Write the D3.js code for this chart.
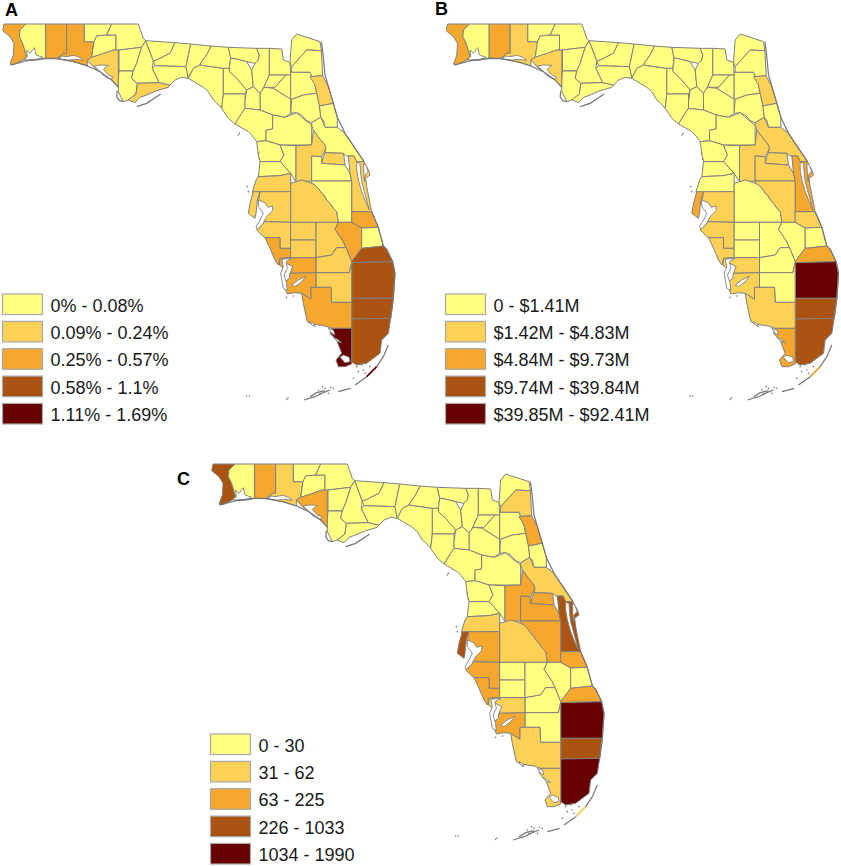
<!DOCTYPE html>
<html lang="en">
<head>
<meta charset="UTF-8">
<title>Florida county maps</title>
<script src="https://d3js.org/d3.v7.min.js"></script>
<style>
    body { margin: 0; background: #fff; }
    svg { display: block; }
    text { font-family: 'Liberation Sans', Arial, sans-serif; fill: #1a1a1a; }
    .county { stroke: #808080; stroke-width: 1; stroke-linejoin: round; }
    .water { fill: #fff; stroke: #808080; stroke-width: 0.9; stroke-linejoin: round; }
    .coast { fill: none; stroke: #777; stroke-width: 1.2; }
    .swatch { stroke: #a8a8a8; stroke-width: 1.2; }
    .letter { font-weight: bold; font-size: 18px; fill: #000; }
    .label { font-size: 18px; }
</style>
</head>
<body>
<svg id="chart" width="841" height="866"></svg>
<script>
const classColors = ["#ffff80", "#fdd155", "#f5a72e", "#ab5412", "#670000"];

const legendA = ["0% - 0.08%", "0.09% - 0.24%", "0.25% - 0.57%", "0.58% - 1.1%", "1.11% - 1.69%"];
const legendB = ["0 - $1.41M", "$1.42M - $4.83M", "$4.84M - $9.73M", "$9.74M - $39.84M", "$39.85M - $92.41M"];
const legendC = ["0 - 30", "31 - 62", "63 - 225", "226 - 1033", "1034 - 1990"];

const countyNames = ["Escambia", "Santa Rosa", "Okaloosa", "Walton", "Holmes", "Washington", "Bay", "Jackson", "Calhoun", "Gulf", "Liberty", "Franklin",
    "Gadsden", "Leon", "Wakulla", "Jefferson", "Taylor", "Madison", "Hamilton", "Suwannee", "Lafayette", "Dixie", "Columbia", "Baker", "Nassau", "Duval", "Union", "Bradford", "Clay",
    "St. Johns", "Flagler", "Putnam", "Alachua", "Gilchrist", "Levy", "Marion", "Citrus", "Sumter", "Hernando", "Pasco", "Lake", "Volusia", "Seminole", "Orange", "Brevard", "Osceola", "Polk",
    "Pinellas", "Hillsborough", "Manatee", "Sarasota", "Hardee", "DeSoto", "Highlands", "Okeechobee", "Indian River", "St. Lucie", "Martin", "Palm Beach", "Broward", "Miami-Dade", "Glades", "Hendry", "Charlotte", "Lee", "Collier", "Monroe"];

// class index per county, same order as countyNames
const classA = [2,0,2,2,0,0,1,0,0,0,0,1,
    0,0,0,0,0,0,0,0,0,0,0,0,0,0,0,0,0,
    1,0,0,0,0,0,0,0,0,0,1,1,0,1,0,1,0,1,
    1,1,1,2,1,1,1,2,2,0,3,3,3,3,1,1,2,2,2,4];
const classB = [2,0,2,1,0,0,1,0,0,0,0,0,
    0,0,0,0,0,0,0,0,0,0,0,0,0,0,0,0,0,
    1,0,0,0,0,0,0,0,0,0,0,1,1,1,1,2,1,0,
    2,1,1,1,0,0,0,0,1,0,2,4,3,3,0,0,1,1,1,2];
const classC = [3,0,2,1,0,0,2,0,0,0,0,0,
    0,0,0,0,0,0,0,0,0,0,0,0,0,1,0,0,0,
    2,0,0,0,0,0,0,0,0,0,1,2,1,2,2,3,2,1,
    3,2,2,2,0,0,0,0,2,0,2,4,3,4,0,0,1,2,1,1];

// county outlines in map units
const countyOutlines = [
    [[12,72],[78,72],[60,90],[58,110],[68,130],[80,170],[72,178],[60,185],[35,195],[30,193],[40,165],[42,130],[30,110],[8,92]],
    [[78,72],[137,72],[137,175],[112,180],[80,182],[72,178],[80,170],[68,130],[58,110],[60,90]],
    [[137,72],[200,72],[200,160],[190,160],[172,175],[137,175]],
    [[200,72],[253,72],[253,125],[282,125],[275,172],[262,180],[262,198],[225,186],[195,180],[172,176],[190,160],[200,160]],
    [[253,72],[335,72],[320,105],[290,108],[282,125],[253,125]],
    [[282,125],[290,108],[320,105],[348,105],[348,150],[340,150],[300,165],[275,172]],
    [[262,180],[275,172],[340,150],[355,150],[355,262],[335,240],[300,215],[280,200]],
    [[335,72],[415,72],[430,115],[437,122],[425,142],[357,150],[348,150],[348,105],[320,105]],
    [[357,150],[425,142],[410,190],[400,212],[357,213]],
    [[357,213],[400,213],[395,235],[412,250],[408,282],[385,300],[370,305],[355,275],[355,243]],
    [[425,142],[437,122],[460,183],[457,205],[478,248],[412,250],[395,235],[400,212],[410,190]],
    [[412,250],[478,248],[510,255],[505,262],[470,272],[440,285],[420,292],[405,308],[385,300],[408,282]],
    [[437,122],[525,128],[510,160],[470,180],[460,183]],
    [[525,128],[572,132],[560,190],[558,200],[465,197],[460,183],[470,180],[510,160]],
    [[465,197],[558,200],[565,235],[545,232],[525,240],[510,255],[478,248],[457,205]],
    [[572,132],[633,138],[620,165],[605,185],[600,195],[580,205],[565,235],[558,200],[560,190]],
    [[600,195],[670,205],[670,282],[665,325],[650,308],[640,300],[625,275],[610,262],[565,235],[580,205]],
    [[633,138],[685,142],[692,175],[688,205],[670,205],[600,195],[605,185],[620,165]],
    [[685,142],[770,145],[778,165],[775,180],[765,190],[740,185],[700,175],[692,175]],
    [[692,175],[700,175],[740,185],[755,210],[760,260],[740,270],[710,235],[688,215],[688,205]],
    [[670,205],[688,205],[688,215],[710,235],[740,270],[735,282],[670,282]],
    [[670,282],[735,282],[735,325],[725,340],[705,372],[685,355],[665,325]],
    [[770,145],[808,145],[808,225],[790,265],[780,280],[760,260],[755,210],[765,190],[775,180],[778,165]],
    [[808,145],[845,147],[850,180],[870,187],[872,225],[808,225]],
    [[875,200],[870,187],[875,120],[890,102],[930,115],[960,125],[964,152],[920,150]],
    [[875,200],[920,150],[964,152],[968,227],[935,230],[930,217],[875,217]],
    [[808,225],[858,225],[825,262],[795,262],[790,265]],
    [[858,225],[872,225],[872,298],[820,265],[825,262]],
    [[872,217],[930,217],[945,255],[950,280],[910,285],[875,298],[872,298]],
    [[930,230],[968,227],[985,260],[1000,310],[958,318],[950,280],[945,255]],
    [[958,318],[1000,310],[1012,352],[1012,382],[975,382],[970,360],[962,352]],
    [[875,298],[910,285],[950,280],[958,318],[962,352],[935,368],[920,362],[905,345],[890,338],[872,340]],
    [[795,262],[820,265],[872,298],[872,340],[855,352],[818,345],[780,330],[780,280],[790,265]],
    [[760,260],[780,280],[780,330],[735,325],[735,305],[740,270]],
    [[735,325],[780,330],[818,345],[818,387],[798,390],[798,422],[770,425],[755,405],[745,395],[705,372],[725,340]],
    [[818,345],[855,352],[890,338],[915,360],[935,375],[935,435],[840,435],[798,422],[798,390],[818,387]],
    [[770,425],[798,422],[840,435],[852,465],[840,485],[780,485],[775,465]],
    [[840,435],[888,437],[888,545],[872,520],[840,485],[852,465]],
    [[780,485],[840,485],[872,520],[840,527],[775,530]],
    [[775,530],[840,527],[872,520],[872,575],[757,577],[768,540]],
    [[888,437],[935,435],[940,390],[955,410],[975,435],[978,445],[965,470],[935,468],[935,543],[888,545]],
    [[935,368],[962,352],[975,382],[1012,382],[1035,400],[1092,485],[1070,485],[1062,468],[1040,468],[1030,460],[975,458],[978,445],[975,435],[955,410],[940,390],[935,375]],
    [[975,458],[1030,460],[1032,470],[1035,495],[965,490],[970,470]],
    [[935,468],[965,470],[965,490],[1035,495],[1050,520],[1055,543],[935,543]],
    [[1045,468],[1062,468],[1070,485],[1092,485],[1105,510],[1110,525],[1097,535],[1100,560],[1115,635],[1055,635],[1055,543],[1050,520]],
    [[935,543],[1055,543],[1055,667],[1015,667],[1012,650],[1010,635],[1000,625],[990,610],[980,600],[972,585],[965,580],[955,565],[945,555],[935,550]],
    [[872,550],[905,540],[935,550],[945,555],[955,565],[965,580],[972,585],[980,600],[990,610],[1000,625],[1010,635],[1012,650],[1015,667],[872,667]],
    [[745,640],[750,610],[760,575],[780,575],[772,600],[770,620],[768,640],[765,655],[752,645]],
    [[780,575],[872,575],[872,667],[795,665],[790,640],[775,610]],
    [[795,665],[872,667],[872,745],[840,745],[840,713],[795,713],[785,705],[770,690]],
    [[795,713],[840,713],[840,745],[872,745],[872,773],[840,775],[835,795],[825,780],[810,745]],
    [[872,667],[948,667],[948,720],[872,720]],
    [[872,720],[948,720],[948,773],[872,773]],
    [[948,667],[1015,667],[1005,688],[1030,725],[1038,743],[1010,743],[995,765],[948,773]],
    [[1015,667],[1055,667],[1085,684],[1085,745],[1055,785],[1038,743],[1030,725],[1005,688]],
    [[1055,635],[1115,635],[1135,682],[1085,684],[1055,667]],
    [[1085,684],[1135,682],[1150,738],[1085,745]],
    [[1085,745],[1150,738],[1160,748],[1178,785],[1055,788],[1055,785]],
    [[1055,788],[1178,785],[1185,820],[1180,895],[1055,895]],
    [[1055,895],[1180,895],[1172,955],[1055,957]],
    [[1055,957],[1172,955],[1165,1000],[1145,1020],[1140,1060],[1100,1090],[1070,1095],[1055,1085]],
    [[948,773],[995,765],[1010,743],[1038,743],[1055,785],[1055,788],[1048,818],[948,818]],
    [[948,818],[1048,818],[1055,788],[1055,907],[995,907],[993,862],[948,862]],
    [[840,775],[872,773],[948,773],[948,818],[870,820],[878,800],[860,790],[855,808],[838,795]],
    [[870,820],[948,818],[948,862],[933,862],[933,898],[905,880],[885,878],[862,882],[850,850],[868,835]],
    [[933,862],[993,862],[995,907],[1055,907],[1055,985],[995,985],[975,978],[935,972],[922,965],[910,910],[905,880],[933,898]],
    [[995,985],[1055,985],[1055,1092],[1035,1100],[1015,1100],[1008,1080],[1025,1060],[1010,1020],[990,1000]]
];

// bays and lagoons, painted over the counties
const waterBodies = [
    [[80,150],[90,160],[103,143],[108,165],[128,172],[112,178],[80,180],[72,178],[82,170]],
    [[172,176],[188,168],[198,170],[222,166],[238,172],[250,181],[228,178],[205,180]],
    [[282,198],[300,195],[325,196],[310,208],[325,225],[340,232],[332,238],[312,228],[298,212]],
    [[775,600],[795,608],[803,622],[818,618],[818,632],[800,650],[788,672],[772,688],[768,680],[780,660],[790,640],[775,620]],
    [[845,778],[875,775],[858,785],[862,805],[852,825],[860,850],[862,872],[850,865],[842,820],[850,800]],
    [[875,855],[895,840],[918,828],[905,845],[885,860]],
    [[1070,487],[1080,490],[1082,520],[1085,545],[1092,570],[1100,600],[1108,630],[1097,605],[1085,575],[1075,540],[1070,510]],
    [[1090,490],[1099,497],[1104,515],[1095,525],[1094,545],[1092,530]],
    [[1020,1072],[1030,1065],[1048,1072],[1050,1085],[1035,1088]],
    [[1000,1012],[1012,1018],[1025,1028],[1012,1024]],
    [[985,985],[1000,990],[1005,1005],[995,1000]],
    [[930,965],[940,970],[945,980],[935,975]]
];

// coast, barrier islands and the Keys, drawn as plain strokes
const coastLines = [
    [[35,195],[80,182],[137,175],[172,176],[225,186],[262,198],[300,215],[335,240],[355,262]],
    [[964,125],[968,152],[975,225],[1000,310],[1012,352],[1035,400],[1092,485]],
    [[1115,635],[1135,682],[1150,738],[1160,748],[1178,785],[1185,820],[1180,895],[1172,955]],
    [[352,272],[350,290],[358,302],[370,305]],
    [[410,320],[440,310],[482,282]],
    [[912,1200],[945,1190],[970,1178],[990,1170]],
    [[930,1190],[950,1178],[975,1172]],
    [[1015,1175],[1052,1165]],
    [[1065,1155],[1100,1130],[1130,1100],[1150,1070],[1165,1035]]
];
const islandDots = [[740,1188],[748,1188],[860,1198],[864,1194],[1070,1100],[1090,1110],[1060,1135],[1110,1100],[1085,1095],[1095,1120],[1075,1115],[960,1180],[975,1165],[985,1180],[955,1170],[968,1160],[992,1162],[745,575],[742,560],[1000,1165],[715,405],[718,400],[775,460],[778,478],[880,888],[860,892]];

const mapX = d3.scaleLinear().domain([0, 1200]);
const mapY = d3.scaleLinear().domain([0, 1200]);
const colorOf = d3.scaleOrdinal().domain(d3.range(5)).range(classColors);
const legendRow = d3.scaleBand().domain(d3.range(5)).paddingInner(0.25);

const svg = d3.select("#chart");

function drawPanel(letter, letterX, letterY, dx, dy, classes, labels, legendX, legendY) {
    const x = mapX.copy().range([dx, dx + 400]);
    const y = mapY.copy().range([dy, dy + 400]);
    const line = d3.line().x(d => x(d[0])).y(d => y(d[1]));
    const ring = d => line(d) + "Z";
    const g = svg.append("g");

    g.selectAll(".county").data(countyOutlines).enter().append("path")
        .attr("class", "county")
        .attr("d", ring)
        .attr("fill", (d, i) => colorOf(classes[i]))
        .append("title").text((d, i) => countyNames[i]);

    g.selectAll(".water").data(waterBodies).enter().append("path")
        .attr("class", "water")
        .attr("d", ring);

    g.selectAll(".coast").data(coastLines).enter().append("path")
        .attr("class", "coast")
        .attr("d", line);

    // upper Keys carry the Monroe colour
    g.append("path")
        .attr("d", line(coastLines[coastLines.length - 1].slice(1, 3)))
        .attr("fill", "none")
        .attr("stroke", colorOf(classes[countyNames.indexOf("Monroe")]))
        .attr("stroke-width", 1.6);

    g.selectAll(".dot").data(islandDots).enter().append("circle")
        .attr("class", "dot")
        .attr("cx", d => x(d[0])).attr("cy", d => y(d[1]))
        .attr("r", 0.8).attr("fill", "#777");

    g.append("text").attr("class", "letter").attr("x", letterX).attr("y", letterY).text(letter);

    const row = legendRow.copy().range([legendY, legendY + 130]);
    const items = g.selectAll(".item").data(labels).enter().append("g").attr("class", "item");
    items.append("rect")
        .attr("class", "swatch")
        .attr("x", legendX).attr("y", (d, i) => row(i))
        .attr("width", 40).attr("height", row.bandwidth())
        .attr("fill", (d, i) => colorOf(i));
    items.append("text")
        .attr("class", "label")
        .attr("x", legendX + 48)
        .attr("y", (d, i) => row(i) + 17.5)
        .text(d => d);
}

drawPanel("A", 5, 16, 0, 0, classA, legendA, 2.5, 294);
drawPanel("B", 435, 15, 443.5, 0, classB, legendB, 445.5, 294);
drawPanel("C", 177, 485, 209, 440, classC, legendC, 210.5, 734);
</script>
</body>
</html>
